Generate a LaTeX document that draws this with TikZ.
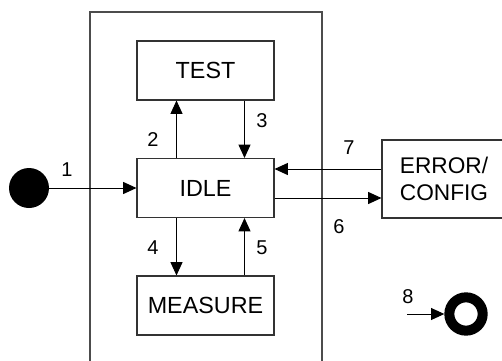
\documentclass[tikz,border=0pt]{standalone}
\usepackage{fontspec}
\setmainfont{Liberation Sans}
\usetikzlibrary{calc,arrows.meta}

\tikzset{
  state/.style={draw=black!80, line width=0.8pt, minimum width=102.75pt, minimum height=44.25pt,
    inner sep=0pt, font=\fontsize{17.5}{20}\selectfont},
  trans/.style={-{Triangle[length=10pt,width=9pt]}, line width=0.75pt},
  num/.style={font=\fontsize{15}{17}\selectfont, inner sep=0pt}
}

\begin{document}
\begin{tikzpicture}[x=0.75pt,y=0.75pt,yscale=-1,xscale=1]
  \useasboundingbox (0,0) rectangle (502,360);
  % superstate frame, open at the bottom
  \draw [color=black!70, line width=1.2pt] (90,365) -- (90,12) -- (322,12) -- (322,365);

  % states
  \node [state] (test) at (205.5,70.5) {TEST};
  \node [state] (idle) at (205.5,188) {IDLE};
  \node [state] (measure) at (205.5,305.5) {MEASURE};
  \node [state, minimum width=93pt, minimum height=58.5pt, align=center,
    font=\fontsize{17}{20.25}\selectfont] (error) at (444,179) {ERROR/\\CONFIG};

  % initial and final pseudo states
  \node [circle, fill=black, minimum size=30pt, inner sep=0pt] (init) at (29,188) {};
  \node [circle, draw=black, line width=7.5pt, minimum size=25pt, inner sep=0pt] (final) at (466,314) {};
  \coordinate (fin-in) at (407,314);

  % end points on the state borders
  \coordinate (e7) at ($(error.west)+(0,-10)$);
  \coordinate (i6) at ($(idle.east)+(0,10)$);

  % transitions
  \draw [trans] (init) -- (idle);
  \draw [trans] ($(idle.north)+(-29,0)$) -- ($(test.south)+(-29,0)$);
  \draw [trans] ($(test.south)+(39,0)$) -- ($(idle.north)+(39,0)$);
  \draw [trans] ($(idle.south)+(-29,0)$) -- ($(measure.north)+(-29,0)$);
  \draw [trans] ($(measure.north)+(39,0)$) -- ($(idle.south)+(39,0)$);
  \draw [trans] (e7) -- (e7 -| idle.east);
  \draw [trans] (i6) -- (i6 -| error.west);
  \draw [trans] (fin-in) -- (final);

  % transition numbers
  \node [num] (n1) at (67,170) {1};
  \node [num] (n2) at (153,140) {2};
  \node [num] (n3) at (262,121) {3};
  \node [num] (n4) at (153,248) {4};
  \node [num] (n5) at (262,248) {5};
  \node [num] (n6) at (339,227) {6};
  \node [num] (n7) at (349,148) {7};
  \node [num] (n8) at (408,297) {8};
\end{tikzpicture}
\end{document}
